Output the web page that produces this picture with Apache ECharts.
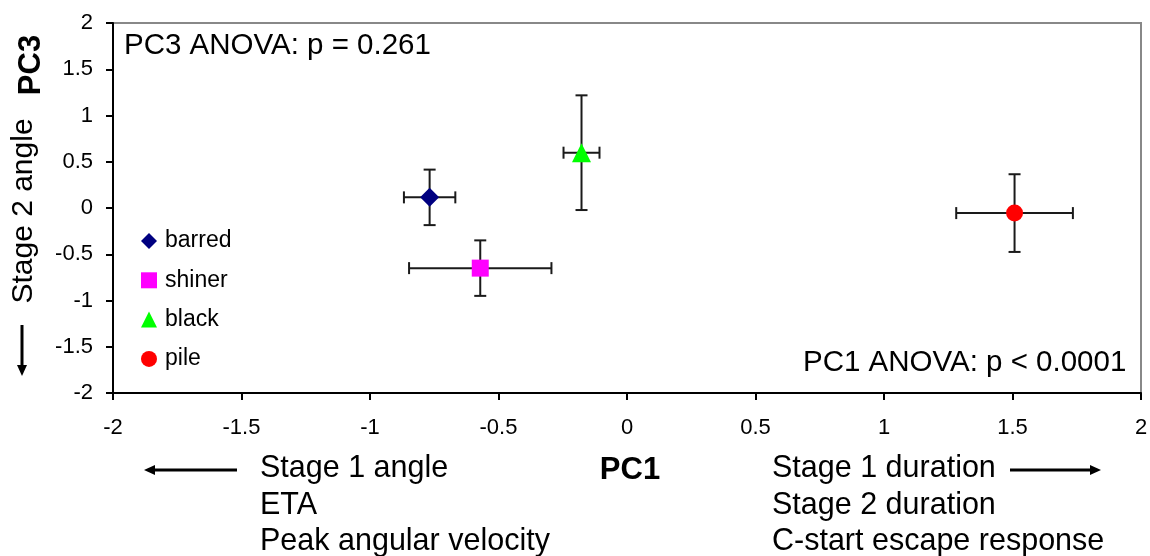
<!DOCTYPE html>
<html>
<head>
<meta charset="utf-8">
<script src="https://cdn.jsdelivr.net/npm/echarts@6/dist/echarts.min.js"></script>
<style>
html,body{margin:0;padding:0;background:#fff;}
#chart{width:1150px;height:556px;}
</style>
</head>
<body>
<div id="chart"></div>
<script>
// ---- data ----
const species = ['barred', 'shiner', 'black', 'pile'];
const pc1Mean = [-0.768, -0.571, -0.177, 1.508];
const pc3Mean = [0.115, -0.65, 0.598, -0.055];
const pc1Err = [0.10, 0.277, 0.07, 0.227];
const pc3Err = [0.30, 0.30, 0.62, 0.42];
const xTicks = { min: -2, max: 2, interval: 0.5 };
const yTicks = { min: -2, max: 2, interval: 0.5 };
const statTexts = ['PC3 ANOVA: p = 0.261', 'PC1 ANOVA: p < 0.0001'];
const leftLabels = ['Stage 1 angle', 'ETA', 'Peak angular velocity'];
const rightLabels = ['Stage 1 duration', 'Stage 2 duration', 'C-start escape response'];

// ---- styles ----
const symbols = ['diamond', 'rect', 'triangle', 'circle'];
const colors = ['#000080', '#FF00FF', '#00FF00', '#FF0000'];
const sizes = [19, 17, 19, 17];
const FONT = '"Liberation Sans", Arial, sans-serif';

const chart = echarts.init(document.getElementById('chart'));

const errData = species.map((s, i) => [pc1Mean[i], pc3Mean[i], pc1Err[i], pc3Err[i]]);

function renderErr(params, api) {
  const x = api.value(0), y = api.value(1), ex = api.value(2), ey = api.value(3);
  const l = api.coord([x - ex, y]), r = api.coord([x + ex, y]);
  const t = api.coord([x, y + ey]), b = api.coord([x, y - ey]);
  const cap = 6;
  const st = { stroke: '#1a1a1a', lineWidth: 2 };
  const mk = (x1, y1, x2, y2) => ({ type: 'line', shape: { x1, y1, x2, y2 }, style: st });
  return {
    type: 'group',
    children: [
      mk(l[0], l[1], r[0], r[1]),
      mk(l[0], l[1] - cap, l[0], l[1] + cap),
      mk(r[0], r[1] - cap, r[0], r[1] + cap),
      mk(t[0], t[1], b[0], b[1]),
      mk(t[0] - cap, t[1], t[0] + cap, t[1]),
      mk(b[0] - cap, b[1], b[0] + cap, b[1])
    ]
  };
}

const series = [{
  type: 'custom',
  renderItem: renderErr,
  data: errData,
  z: 1,
  silent: true
}];
species.forEach((s, i) => {
  series.push({
    name: s,
    type: 'scatter',
    symbol: symbols[i],
    symbolSize: sizes[i],
    itemStyle: { color: colors[i], opacity: 1 },
    data: [[pc1Mean[i], pc3Mean[i]]],
    z: 3
  });
});

function arrow(x1, y1, x2, y2) {
  const dx = x2 - x1, dy = y2 - y1;
  const len = Math.sqrt(dx * dx + dy * dy);
  const ux = dx / len, uy = dy / len;
  const hl = 11, hw = 5;
  const bx = x2 - ux * hl, by = y2 - uy * hl;
  return [
    { type: 'line', shape: { x1, y1, x2: bx, y2: by }, style: { stroke: '#000', lineWidth: 3 } },
    { type: 'polygon', shape: { points: [[x2, y2], [bx - uy * hw, by + ux * hw], [bx + uy * hw, by - ux * hw]] }, style: { fill: '#000' } }
  ];
}

const txt = (text, x, y, size, opts) => Object.assign({
  type: 'text', x, y,
  style: Object.assign({ text, fill: '#000', font: (opts && opts.bold ? 'bold ' : '') + size + 'px ' + FONT, align: 'left', verticalAlign: 'middle' }, opts && opts.style)
}, opts && opts.el);

const graphics = [
  txt(statTexts[0], 124, 46, 29.5),
  txt(statTexts[1], 803, 363, 29.5),
  txt('PC3', 31, 65, 31, { bold: true, style: { align: 'center' }, el: { rotation: Math.PI / 2 } }),
  txt('Stage 2 angle', 24, 211, 30, { style: { align: 'center' }, el: { rotation: Math.PI / 2 } }),
  ...arrow(22, 325, 22, 376),
  ...arrow(237, 470, 144, 470),
  ...arrow(1010, 470, 1101, 470),
  txt('PC1', 630, 470, 31, { bold: true, style: { align: 'center' } }),
  ...leftLabels.map((t, i) => txt(t, 260, 469 + i * 36.5, 30.5)),
  ...rightLabels.map((t, i) => txt(t, 772, 469 + i * 36.5, 30.5))
];

chart.setOption({
  animation: false,
  backgroundColor: '#fff',
  grid: {
    left: 113, right: 9, top: 23, bottom: 163,
    show: true, borderColor: '#888', borderWidth: 2,
    outerBoundsMode: 'none'
  },
  legend: {
    data: species,
    orient: 'vertical',
    left: 141, top: 229.5,
    padding: 0,
    itemWidth: 16, itemHeight: 16, itemGap: 16.3,
    textStyle: { fontSize: 23, fontFamily: FONT, color: '#000', padding: [0, 0, 0, 3] },
    selectedMode: false
  },
  xAxis: {
    type: 'value', min: xTicks.min, max: xTicks.max, interval: xTicks.interval,
    axisLine: { show: true, onZero: false, lineStyle: { color: '#000', width: 2 } },
    axisTick: { show: true, inside: false, length: 7, lineStyle: { color: '#000', width: 2 } },
    axisLabel: { fontSize: 22, fontFamily: FONT, color: '#000', margin: 24 },
    splitLine: { show: false }
  },
  yAxis: {
    type: 'value', min: yTicks.min, max: yTicks.max, interval: yTicks.interval,
    axisLine: { show: true, onZero: false, lineStyle: { color: '#000', width: 2 } },
    axisTick: { show: true, inside: false, length: 7, lineStyle: { color: '#000', width: 2 } },
    axisLabel: { fontSize: 22, fontFamily: FONT, color: '#000', margin: 20 },
    splitLine: { show: false }
  },
  series: series,
  graphic: graphics
});
</script>
</body>
</html>
